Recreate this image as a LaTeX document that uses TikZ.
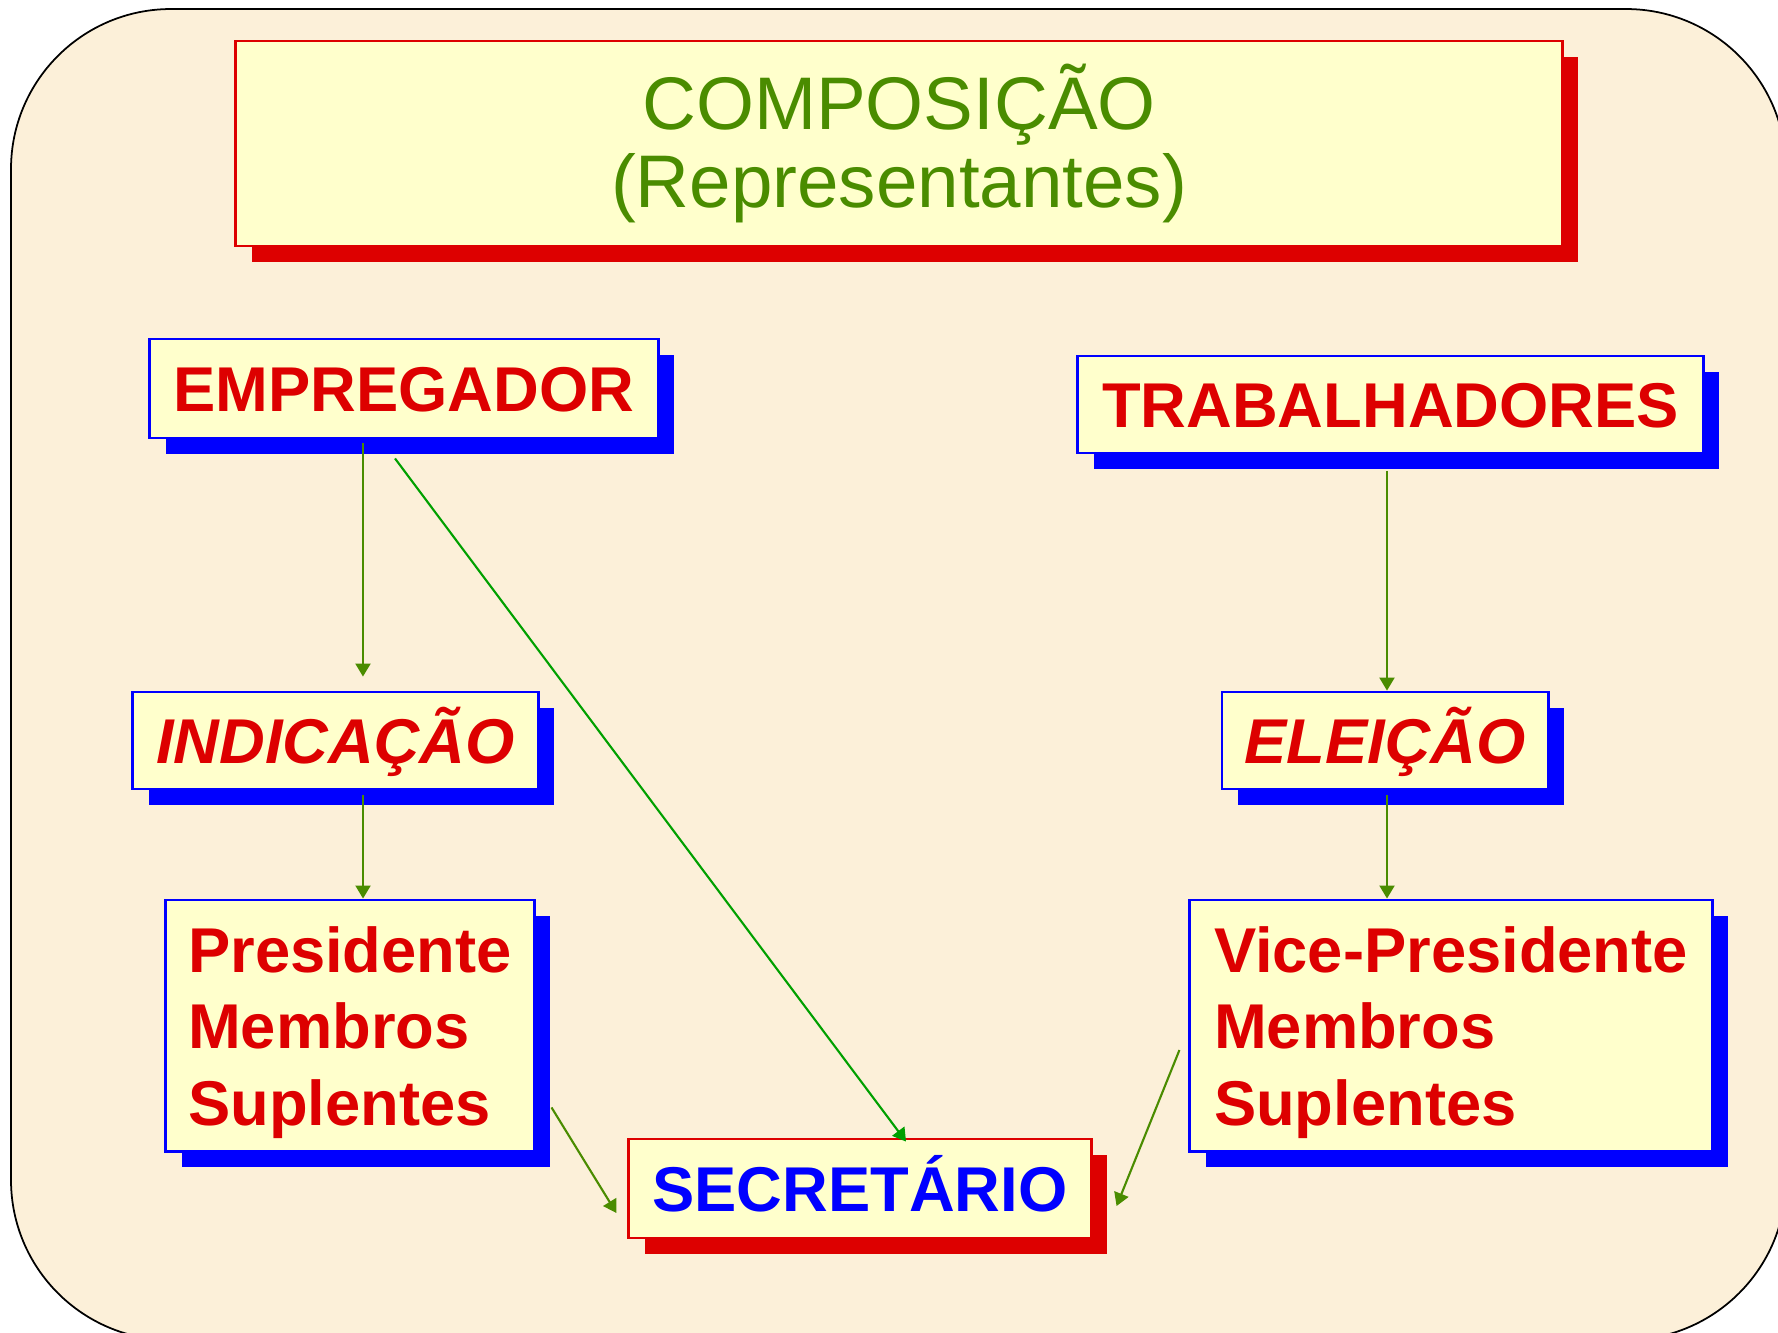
\documentclass[tikz,border=0pt]{standalone}
\usepackage{fontspec}
\setmainfont{Liberation Sans}
\usetikzlibrary{arrows.meta, shadows}

\definecolor{pergaminho}{HTML}{FCF0D9}
\definecolor{amarelo}{HTML}{FFFFCC}
\definecolor{vermelho}{HTML}{DD0000}
\definecolor{verde}{HTML}{4A8C00}
\definecolor{verdeclaro}{HTML}{00A000}

\begin{document}
\begin{tikzpicture}[x=0.01cm, y=-0.01cm, >={Triangle[length=0.13cm, width=0.15cm]},
  caixa/.style={draw=blue, line width=0.8pt, fill=amarelo, text=vermelho, inner sep=0pt,
    font=\bfseries\fontsize{18pt}{21.8pt}\selectfont,
    drop shadow={shadow xshift=0.16cm, shadow yshift=-0.16cm, fill=blue, opacity=1}},
  linha/.style={caixa, text height=0.45cm, text depth=0pt},
  sombraverm/.style={draw=vermelho,
    drop shadow={shadow xshift=0.16cm, shadow yshift=-0.16cm, fill=vermelho, opacity=1}},
  seta/.style={->, verde, line width=0.6pt}]

      % Fundo
      \useasboundingbox (0,0) rectangle (1778,1332);
      \clip (0,0) rectangle (1778,1332);
      \fill[white] (0,0) rectangle (1778,1332);
      \draw[fill=pergaminho, line width=0.5pt, rounded corners=1.6cm]
        (11,9) rectangle (1786,1340);

      % Titulo
      \node[caixa, sombraverm, text=verde, align=center,
        font=\fontsize{21.2pt}{22.2pt}\selectfont,
        minimum width=13.26cm, minimum height=2.05cm] (tit) at (899,143.5)
        {COMPOSIÇÃO\\(Representantes)};

      % Representantes
      \node[linha, minimum width=5.08cm, minimum height=0.99cm] (emp) at (404,388.5) {EMPREGADOR};
      \node[linha, minimum width=6.25cm, minimum height=0.97cm] (trab) at (1390.5,404.5) {TRABALHADORES};

      % Forma de escolha
      \node[linha, font=\bfseries\itshape\fontsize{18pt}{21.8pt}\selectfont,
        minimum width=4.05cm, minimum height=0.97cm] (ind) at (335.5,740.5) {INDICAÇÃO};
      \node[linha, font=\bfseries\itshape\fontsize{18pt}{21.8pt}\selectfont,
        minimum width=3.26cm, minimum height=0.97cm] (ele) at (1385,740.5) {ELEIÇÃO};

      % Cargos
      \node[caixa, align=left, minimum width=3.68cm, minimum height=2.51cm] (pres) at (350,1025.5)
        {\rule{0pt}{17pt}Presidente\\Membros\\Suplentes};
      \node[caixa, align=left, minimum width=5.22cm, minimum height=2.51cm] (vice) at (1451,1025.5)
        {\rule{0pt}{17pt}Vice-Presidente\\Membros\\Suplentes};

      % Secretario
      \node[linha, sombraverm, text=blue,
        minimum width=4.62cm, minimum height=0.99cm] (sec) at (860,1188.5) {SECRETÁRIO};

      %-------------------------------------
      % Setas
      %-------------------------------------
      \coordinate (e1) at ([xshift=-0.41cm]emp.south);
      \coordinate (i1) at ([xshift=0.275cm]ind.south);
      \coordinate (t1) at ([xshift=-0.035cm]trab.south);
      \coordinate (l1) at ([xshift=0.02cm]ele.south);

      \draw[seta, shorten <=0.04cm, shorten >=0.14cm] (e1) -- (e1 |- ind.north);
      \draw[seta, shorten <=0.05cm] (i1) -- (i1 |- pres.north);
      \draw[seta, shorten <=0.165cm] (t1) -- (t1 |- ele.north);
      \draw[seta, shorten <=0.05cm] (l1) -- (l1 |- vice.north);

      \draw[seta, verdeclaro] ([xshift=-0.09cm, yshift=-0.19cm]emp.south)
        -- ([xshift=0.46cm, yshift=-0.04cm]sec.north);
      \draw[seta] ([xshift=0.16cm, yshift=0.45cm]pres.south east)
        -- ([xshift=-0.11cm, yshift=-0.245cm]sec.west);
      \draw[seta] ([xshift=-0.09cm, yshift=-0.245cm]vice.west)
        -- ([xshift=0.24cm, yshift=-0.175cm]sec.east);

\end{tikzpicture}
\end{document}
